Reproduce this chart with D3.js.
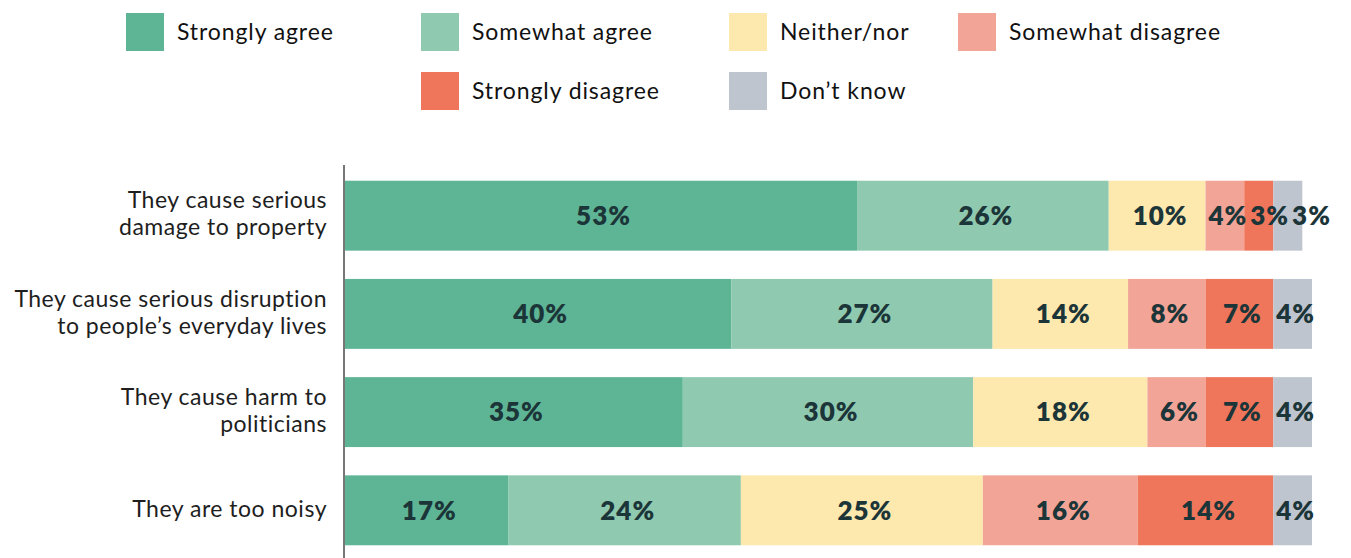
<!DOCTYPE html>
<html>
<head>
<meta charset="utf-8">
<script src="https://cdn.jsdelivr.net/npm/d3@7"></script>
<style>
  body { margin: 0; background: #fff; }
  svg { display: block; }
</style>
</head>
<body>
<script>
// chart data
const categories = [
  ['They cause serious', 'damage to property'],
  ['They cause serious disruption', 'to people\u2019s everyday lives'],
  ['They cause harm to', 'politicians'],
  ['They are too noisy']
];
const seriesNames = ['Strongly agree', 'Somewhat agree', 'Neither/nor', 'Somewhat disagree', 'Strongly disagree', 'Don\u2019t know'];
const stronglyAgree = [53, 40, 35, 17];
const somewhatAgree = [26, 27, 30, 24];
const neitherNor = [10, 14, 18, 25];
const somewhatDisagree = [4, 8, 6, 16];
const stronglyDisagree = [3, 7, 7, 14];
const dontKnow = [3, 4, 4, 4];
const colors = ['#5eb596', '#8fcab0', '#fde8ae', '#f2a597', '#f0765b', '#bfc5cf'];

const seriesValues = [stronglyAgree, somewhatAgree, neitherNor, somewhatDisagree, stronglyDisagree, dontKnow];

const width = 1351;
const height = 558;
const margin = { left: 344 };

const svg = d3.select('body')
  .append('svg')
  .attr('width', width)
  .attr('height', height);

// Scales
const x = d3.scaleLinear().domain([0, 100]).range([margin.left, margin.left + 968]);
const y = d3.scaleBand()
  .domain(d3.range(categories.length))
  .range([166, 560])
  .paddingInner(0.288)
  .paddingOuter(0.15);
const color = d3.scaleOrdinal().domain(seriesNames).range(colors);

// Build table for d3.stack
const table = categories.map(function(c, i) {
  const row = { idx: i };
  seriesNames.forEach(function(s, j) { row[s] = seriesValues[j][i]; });
  return row;
});
const stacked = d3.stack().keys(seriesNames)(table);

// Bars
const layers = svg.append('g')
  .selectAll('g')
  .data(stacked)
  .join('g')
  .attr('fill', function(d) { return color(d.key); });

layers.selectAll('rect')
  .data(function(d) { return d; })
  .join('rect')
  .attr('x', function(d) { return x(d[0]); })
  .attr('y', function(d) { return y(d.data.idx); })
  .attr('width', function(d) { return x(d[1]) - x(d[0]); })
  .attr('height', y.bandwidth());

// Value labels, pushed right where they would overlap
const labelG = svg.append('g');
categories.forEach(function(c, i) {
  let prevRight = -Infinity;
  stacked.forEach(function(layer) {
    const d = layer[i];
    const txt = (d[1] - d[0]) + '%';
    const t = labelG.append('text')
      .attr('y', y(i) + y.bandwidth() / 2)
      .attr('dy', '0.36em')
      .attr('text-anchor', 'middle')
      .style('font', '800 26px Lato, sans-serif')
      .style('letter-spacing', '1px')
      .attr('fill', '#1c3538')
      .text(txt);
    const w = t.node().getComputedTextLength();
    let cx = (x(d[0]) + x(d[1])) / 2 + 3;
    if (cx - w / 2 < prevRight + 3) cx = prevRight + 3 + w / 2;
    t.attr('x', cx);
    prevRight = cx + w / 2;
  });
});

// Category labels
const catG = svg.append('g');
categories.forEach(function(lines, i) {
  const cy = y(i) + y.bandwidth() / 2;
  const lh = 27;
  const t = catG.append('text')
    .attr('text-anchor', 'end')
    .style('font', '400 23px Lato, sans-serif')
    .style('letter-spacing', '0.5px')
    .attr('fill', '#1e1e1e');
  lines.forEach(function(l, k) {
    t.append('tspan')
      .attr('x', 327)
      .attr('y', cy - 2 + (k - (lines.length - 1) / 2) * lh)
      .attr('dy', '0.36em')
      .text(l);
  });
});

// Y axis line
svg.append('line')
  .attr('x1', margin.left).attr('x2', margin.left)
  .attr('y1', 165).attr('y2', height)
  .attr('stroke', '#777')
  .attr('stroke-width', 2);

// Legend
const legendPos = [
  { x: 126, y: 13 }, { x: 421, y: 13 }, { x: 729, y: 13 }, { x: 958, y: 13 },
  { x: 421, y: 72 }, { x: 729, y: 72 }
];
const legend = svg.append('g')
  .selectAll('g')
  .data(seriesNames)
  .join('g')
  .attr('transform', function(d, i) { return 'translate(' + legendPos[i].x + ',' + legendPos[i].y + ')'; });

legend.append('rect')
  .attr('width', 38)
  .attr('height', 38)
  .attr('fill', function(d) { return color(d); });

legend.append('text')
  .attr('x', 51)
  .attr('y', 19)
  .attr('dy', '0.36em')
  .style('font', '400 23px Lato, sans-serif')
  .style('letter-spacing', '0.9px')
  .attr('fill', '#111')
  .text(function(d) { return d; });
</script>
</body>
</html>
